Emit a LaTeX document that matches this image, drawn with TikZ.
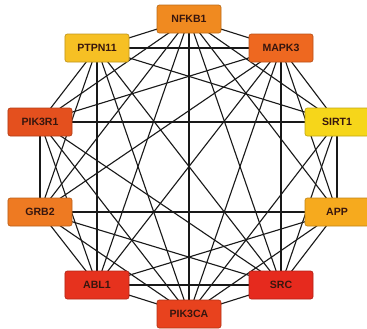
\documentclass[tikz,border=0pt]{standalone}
\usepackage{fontspec}
\setmainfont{Liberation Sans}
\usetikzlibrary{backgrounds}
\definecolor{cN}{RGB}{240,138,32}
\definecolor{cP}{RGB}{246,192,36}
\definecolor{cM}{RGB}{238,104,32}
\definecolor{cR}{RGB}{228,80,30}
\definecolor{cS}{RGB}{246,214,26}
\definecolor{cG}{RGB}{238,122,34}
\definecolor{cA}{RGB}{246,170,30}
\definecolor{cL}{RGB}{230,50,30}
\definecolor{cC}{RGB}{230,42,30}
\definecolor{cK}{RGB}{232,66,30}
\definecolor{txt}{RGB}{55,22,14}
\tikzset{
  gene/.style={draw=#1!78!black, fill=#1, rounded corners=2pt, line width=0.6pt,
    minimum width=1.92cm, minimum height=0.84cm, inner sep=0pt,
    font=\fontsize{9}{10}\selectfont\bfseries, text=txt},
  link/.style={line width=0.95pt, black!90}
}
\begin{document}
\begin{tikzpicture}[x=0.03cm, y=-0.03cm]
\useasboundingbox (0,0) rectangle (367,328);
\node[gene=cN] (N) at (189,19) {NFKB1};
\node[gene=cP] (P) at (97,48) {PTPN11};
\node[gene=cM] (M) at (281,48) {MAPK3};
\node[gene=cR] (R) at (40,122) {PIK3R1};
\node[gene=cS] (S) at (337,122) {SIRT1};
\node[gene=cG] (G) at (40,212) {GRB2};
\node[gene=cA] (A) at (337,212) {APP};
\node[gene=cL] (L) at (97,285) {ABL1};
\node[gene=cC] (C) at (281,285) {SRC};
\node[gene=cK] (K) at (189,314) {PIK3CA};
\begin{scope}[on background layer]
\foreach \a/\b in {N/P,N/M,N/R,N/S,N/G,N/A,N/L,N/C,N/K,
  P/M,P/R,P/G,P/L,P/K,P/C,P/S,
  M/R,M/S,M/G,M/L,M/K,M/C,M/A,
  R/S,R/G,R/L,R/K,R/C,
  S/A,S/C,S/K,
  G/A,G/L,G/K,G/C,
  A/L,A/K,A/C,
  L/C,L/K,C/K}
  \draw[link] (\a.center) -- (\b.center);
\end{scope}
\end{tikzpicture}
\end{document}
